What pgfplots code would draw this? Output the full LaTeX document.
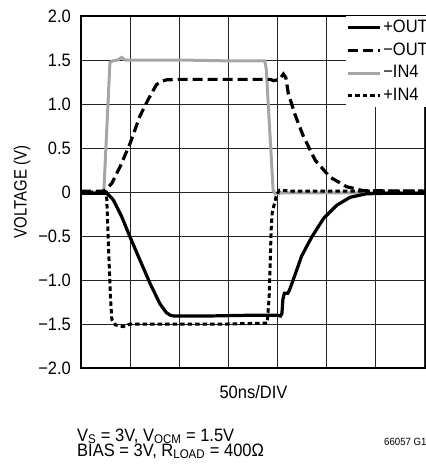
\documentclass[border=0pt]{standalone}
\usepackage{fontspec}
\setmainfont{Liberation Sans}[FakeStretch=0.92]
\newfontfamily\narrowfont{Liberation Sans}[FakeStretch=0.83]
\usepackage{pgfplots}
\pgfplotsset{compat=1.18}

% x in divisions (50 ns/DIV), y in volts
\pgfplotstableread{
x y
0 -0.015
0.50 -0.015
0.56 -0.03
0.66 -0.09
0.83 -0.28
1.00 -0.51
1.20 -0.77
1.41 -1.04
1.61 -1.27
1.74 -1.37
1.82 -1.40
1.90 -1.41
2.50 -1.41
3.00 -1.405
3.50 -1.40
4.00 -1.40
4.07 -1.41
4.10 -1.38
4.12 -1.22
4.15 -1.15
4.22 -1.15
4.25 -1.12
4.33 -1.00
4.50 -0.73
4.71 -0.51
4.95 -0.30
5.22 -0.15
5.49 -0.06
5.83 -0.02
6.20 -0.015
7.04 -0.015
}\poutdata

\pgfplotstableread{
x y
0 0.01
0.45 0.01
0.50 0.02
0.63 0.10
0.80 0.29
1.00 0.55
1.20 0.86
1.37 1.05
1.54 1.22
1.65 1.26
1.75 1.275
2.00 1.28
3.00 1.28
3.86 1.28
3.93 1.265
4.05 1.28
4.13 1.34
4.18 1.30
4.23 1.12
4.37 0.875
4.54 0.63
4.78 0.36
5.08 0.17
5.42 0.06
5.76 0.015
7.04 0.01
}\noutdata

\pgfplotstableread{
x y
0 0.0
0.45 0.0
0.47 0.05
0.59 1.47
0.65 1.49
0.75 1.50
0.83 1.53
0.90 1.50
1.00 1.50
2.00 1.50
3.00 1.49
3.75 1.49
3.78 1.40
3.92 0.02
3.96 -0.02
4.10 -0.01
5.00 -0.01
7.04 -0.01
}\ninfourdata

\pgfplotstableread{
x y
0 0.0
0.52 0.0
0.54 -0.30
0.56 -0.60
0.60 -1.19
0.63 -1.45
0.70 -1.51
0.86 -1.53
1.00 -1.50
2.00 -1.50
3.00 -1.50
3.80 -1.49
3.84 -1.19
3.88 -0.43
3.90 -0.24
3.99 -0.03
4.05 0.02
4.30 0.01
7.04 0.01
}\pinfourdata

\begin{document}
\fontsize{18}{21.5}\selectfont
\begin{tikzpicture}
\begin{axis}[
  scale only axis, width=345bp, height=352bp,
  xmin=0, xmax=7.04, ymin=-2, ymax=2,
  xtick={0,...,7}, xticklabels={},
  ytick={-2,-1.5,...,2},
  yticklabels={\mbox{−2.0},\mbox{−1.5},\mbox{−1.0},\mbox{−0.5},\mbox{0},
    \mbox{0.5},\mbox{1.0},\mbox{1.5},\mbox{2.0}},
  major tick length=0pt,
  grid=major, grid style={black!85, line width=0.8bp},
  axis line style={line width=1.3bp},
  yticklabel style={xshift=-4bp, font=\fontsize{18}{20}\selectfont},
  xlabel={50ns/DIV},
  xlabel style={at={(axis description cs:0.5,0)}, anchor=north, yshift=-11bp,
    font=\fontsize{18}{20}\selectfont},
  ylabel={VOLTAGE (V)},
  ylabel style={at={(axis description cs:0,0.5)}, anchor=center, yshift=59bp,
    font=\fontsize{18}{20}\narrowfont},
  clip=false,
  legend style={at={(rel axis cs:1,1)}, anchor=north east, draw=none, fill=white,
    inner xsep=0bp, inner ysep=2bp, row sep=3.5bp, cells={anchor=west},
    font=\fontsize{18}{20}\selectfont, yshift=0bp, xshift=4bp},
  legend image code/.code={\draw[#1] (0bp,0bp) -- (32bp,0bp);},
]
\addlegendimage{black, line width=3.2bp}
\addlegendentry{+OUT}
\addlegendimage{black, line width=3.2bp, dash pattern=on 10bp off 5bp}
\addlegendentry{−OUT}
\addlegendimage{black!35, line width=3bp}
\addlegendentry{−IN4}
\addlegendimage{black, line width=3bp, dash pattern=on 4.5bp off 3bp}
\addlegendentry{+IN4}

\addplot[black!35, line width=3bp, forget plot] table {\ninfourdata};
\addplot[black, line width=3bp, dash pattern=on 4.5bp off 3bp, forget plot] table {\pinfourdata};
\addplot[black, line width=3.2bp, dash pattern=on 10bp off 5bp, forget plot] table {\noutdata};
\addplot[black, line width=3.2bp, forget plot] table {\poutdata};

\node[anchor=base west, inner sep=0pt, font=\fontsize{18}{18}\selectfont]
  at (rel axis cs:0,0) [xshift=-4bp, yshift=-73bp]
  {V\textsubscript{S} = 3V, V\textsubscript{OCM} = 1.5V};
\node[anchor=base west, inner sep=0pt, font=\fontsize{18}{18}\selectfont]
  at (rel axis cs:0,0) [xshift=-4bp, yshift=-88bp]
  {BIAS = 3V, R\textsubscript{LOAD} = 400Ω};
\node[anchor=west, inner sep=0pt, font=\fontsize{10.5}{10.5}\selectfont]
  at (rel axis cs:0,0) [xshift=303bp, yshift=-74bp] {66057 G13};
\end{axis}
\pgfresetboundingbox
\useasboundingbox ([shift={(-81bp,-98bp)}]current axis.south west)
  rectangle ([shift={(345bp,368bp)}]current axis.south west);
\end{tikzpicture}
\end{document}
